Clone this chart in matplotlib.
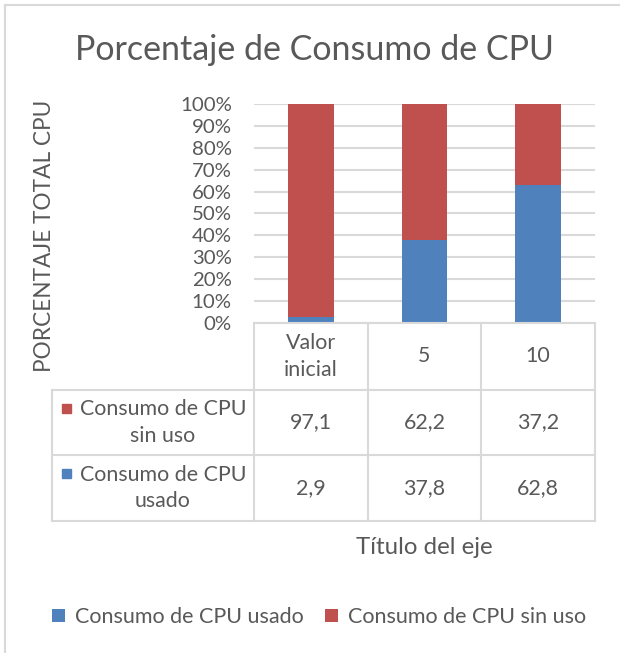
import numpy as np
import matplotlib.pyplot as plt
from matplotlib.patches import Rectangle
from matplotlib.lines import Line2D

# data
categorias = ['Valor\ninicial', '5', '10']
usado = [2.9, 37.8, 62.8]
sin_uso = [97.1, 62.2, 37.2]
series_nombres = ['Consumo de CPU usado', 'Consumo de CPU sin uso']
tabla_nombres = ['Consumo de CPU\nsin uso', 'Consumo de CPU\nusado']

azul = '#4F81BD'
rojo = '#C0504D'
gris_txt = '#595959'
gris_lin = '#D9D9D9'

plt.rcParams['font.family'] = ['Lato', 'DejaVu Sans']

W, H = 620, 653
fig = plt.figure(figsize=(W / 100, H / 100), dpi=100)

# helpers to place things in pixel coordinates (origin top left)
def fx(x):
    return x / W

def fy(y):
    return 1 - y / H

def ptext(x, y, s, **kw):
    fig.text(fx(x), fy(y), s, color=gris_txt, **kw)

def pline(x0, y0, x1, y1, **kw):
    fig.add_artist(Line2D([fx(x0), fx(x1)], [fy(y0), fy(y1)], color=gris_lin,
                          transform=fig.transFigure, **kw))

# chart frame
pline(5, 5, 620, 5, lw=1.5)
pline(5, 5, 5, 653, lw=1.5)

# plot area
left, right, top, bottom = 254, 595, 104, 323
ax = fig.add_axes([fx(left), fy(bottom), fx(right) - fx(left), fy(top) - fy(bottom)])

x = np.arange(len(categorias))
total = np.array(usado) + np.array(sin_uso)
p_usado = np.array(usado) / total * 100
p_sin = np.array(sin_uso) / total * 100
b1 = ax.bar(x, p_usado, width=0.4, color=azul, zorder=3)
b2 = ax.bar(x, p_sin, bottom=p_usado, width=0.4, color=rojo, zorder=3)

ax.set_xlim(-0.5, len(categorias) - 0.5)
ax.set_ylim(0, 100)
ax.set_yticks(np.arange(0, 101, 10))
ax.set_yticklabels([f'{v}%' for v in range(0, 101, 10)])
ax.set_xticks([])
ax.tick_params(axis='y', length=0, pad=16, labelsize=14.7, labelcolor=gris_txt)
ax.grid(axis='y', color=gris_lin, lw=1.5, zorder=0)
for s in ax.spines.values():
    s.set_visible(False)

# title and axis titles
ptext(314, 50, 'Porcentaje de Consumo de CPU', fontsize=24.5, ha='center', va='center')
ptext(45, 236, 'PORCENTAJE TOTAL CPU', fontsize=16.3, rotation=90, ha='center', va='center')
ptext(424, 547, 'Título del eje', fontsize=17.3, ha='center', va='center')

# data table
col_x = [left + i * (right - left) / 3 for i in range(4)]
row_y = [bottom, 390, 455, 521]
tab_left = 52
pline(col_x[0], row_y[0], col_x[-1], row_y[0], lw=1.5)
for cx in col_x:
    pline(cx, row_y[0], cx, row_y[-1], lw=1.5)
for ry in row_y[1:]:
    pline(tab_left, ry, col_x[-1], ry, lw=1.5)
pline(tab_left, row_y[1], tab_left, row_y[-1], lw=1.5)

fs_tab = 15.4
for i, c in enumerate(categorias):
    ptext((col_x[i] + col_x[i + 1]) / 2, (row_y[0] + row_y[1]) / 2, c,
          fontsize=fs_tab, ha='center', va='center', linespacing=1.4)

filas = [(sin_uso, rojo), (usado, azul)]
for r, ((vals, col), nombre) in enumerate(zip(filas, tabla_nombres)):
    yc = (row_y[r + 1] + row_y[r + 2]) / 2
    ptext(163, yc, nombre, fontsize=fs_tab, ha='center', va='center', linespacing=1.4)
    fig.add_artist(Rectangle((fx(62), fy(yc - 10)), fx(9), fy(0) - fy(9),
                             color=col, transform=fig.transFigure))
    for i, v in enumerate(vals):
        ptext((col_x[i] + col_x[i + 1]) / 2, yc, f'{v:.1f}'.replace('.', ','),
              fontsize=fs_tab, ha='center', va='center')

# legend
fig.legend([b1, b2], series_nombres, loc='center', bbox_to_anchor=(fx(319), fy(617)),
           ncol=2, frameon=False, fontsize=15.5, labelcolor=gris_txt,
           handlelength=0.6, handleheight=0.6, handletextpad=0.45, columnspacing=1.0)

fig.savefig('out.png', dpi=100)
